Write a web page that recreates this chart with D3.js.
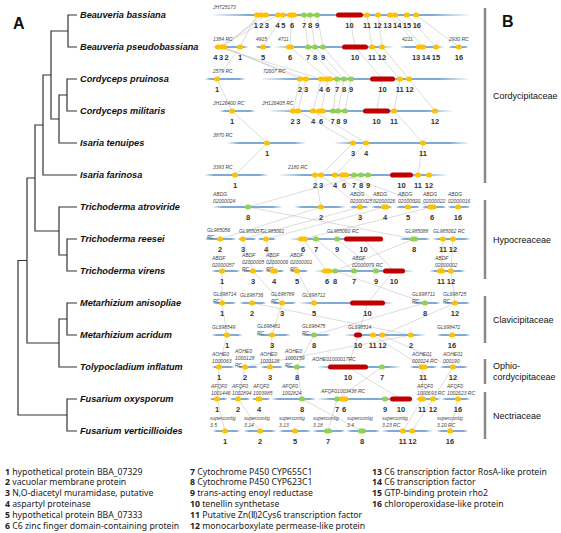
<!DOCTYPE html>
<html><head><meta charset="utf-8">
<script src="https://cdn.jsdelivr.net/npm/d3@7"></script>
<style>body{margin:0;background:#fff} svg{display:block}</style>
</head><body><svg id="c" width="561" height="533"></svg>
<script>
// ---------------- DATA ----------------
const species = ["Beauveria bassiana","Beauveria pseudobassiana","Cordyceps pruinosa","Cordyceps militaris","Isaria tenuipes","Isaria farinosa","Trichoderma atroviride","Trichoderma reesei","Trichoderma virens","Metarhizium anisopliae","Metarhizium acridum","Tolypocladium inflatum","Fusarium oxysporum","Fusarium verticillioides"];
const speciesCodes = ["Bb","Bpb","Cp","Cm","It","If","Ta","Tr","Tv","Ma","Mac","Ti","Fo","Fv"];
// cladogram with branch lengths
const treeNewick = "((((((Bb:9,Bpb:9):17,((Cp:10,Cm:10):8,It:18):8):8,If:34):8,(Ta:18,(Tr:10,Tv:10):8):24):8,((Ma:10,Mac:10):8,Ti:18):32):9,(Fo:10,Fv:10):49)";

const familyNames = ["Cordycipitaceae","Hypocreaceae","Clavicipitaceae","Ophio-|cordycipitaceae","Nectriaceae"];
const familyRows = [[0,5],[6,8],[9,10],[11,11],[12,13]];

// genes: [gene number, position, length]
const genesBb  = [[1,57],[2,61],[3,66],[4,78],[5,83],[6,92,10],[7,104],[8,110],[9,117],[10,149.5,27],[11,167],[12,178],[13,190],[14,195],[15,207],[16,216]];
const genesBpb = [[4,18],[3,21],[2,24],[1,40],[5,63],[6,90,8],[7,108],[8,115],[9,123],[10,155,26],[11,172],[12,182],[13,219],[14,223],[15,236],[16,259]];
const genesCp  = [[1,17],[2,100],[3,106],[4,121],[6,128,10],[7,137],[8,144],[9,151],[10,182.5,25],[11,200],[12,209]];
const genesCm  = [[1,32],[2,93],[3,98],[4,113],[6,121,10],[7,133],[8,138],[9,145],[10,176.5,27],[11,194],[12,235]];
const genesIt  = [[1,67],[3,153],[4,166],[11,223]];
const genesIf  = [[1,35],[2,115],[3,121],[4,135],[6,144,10],[7,154],[8,161],[9,168],[10,201.5,23],[11,218],[12,229]];
const genesTa  = [[8,48],[2,121],[3,160],[4,185,8],[5,208],[6,232,9],[16,258]];
const genesTr  = [[2,20],[3,43],[4,66],[6,103,10],[7,116],[9,137],[10,163.5,39],[8,214,8],[11,243],[12,253]];
const genesTv  = [[1,22],[3,53],[4,74,8],[5,97],[6,127,10],[8,135],[7,154],[9,176],[10,194,22],[11,241,8],[12,251]];
const genesMa  = [[1,22],[2,52],[3,82],[5,114],[10,167.5,35],[8,225],[12,255]];
const genesMac = [[1,27],[3,72],[8,114],[10,158,8],[11,173],[12,182],[2,211],[16,252]];
const genesTi  = [[1,19],[2,45],[3,70],[8,97],[10,148,40],[7,182],[11,223,9],[12,253]];
const genesFo  = [[1,17],[2,38],[4,59,7],[8,102],[7,137],[6,144,9],[9,185],[10,201,22],[11,222,8],[12,233],[16,258]];
const genesFv  = [[1,25],[2,60],[5,95],[7,128,8],[8,162,8],[11,203],[12,212],[16,250]];
const geneRows = [genesBb,genesBpb,genesCp,genesCm,genesIt,genesIf,genesTa,genesTr,genesTv,genesMa,genesMac,genesTi,genesFo,genesFv];

// contigs: [label ("|" = line break), start, end, label position (optional)]
const contigsBb  = [["JH725173",13,268]];
const contigsBpb = [["1384 RC",13,48],["4915",56,71],["4711",76,193,78],["4211",200,243,202],["2930 RC",249,268]];
const contigsCp  = [["2579 RC",5,45,13],["72607 RC",62,268,63]];
const contigsCm  = [["JH126400 RC",20,55,13],["JH126405 RC",70,252,62]];
const contigsIt  = [["3870 RC",28,105,13],["",135,268]];
const contigsIf  = [["3393 RC",5,68,13],["2180 RC",80,247,88]];
const contigsTa  = [["ABDG|02000024",13,82],["",95,145],["ABDG|02000025",150,168],["ABDG|02000026",172,192,173],["ABDG|02000020",196,220,198],["ABDG|02000022",222,246,223],["ABDG|02000016",248,270]];
const contigsTr  = [["GL985056|RC",5,36,7],["GL985057",38,56,39],["GL985061",58,76,61],["GL985060 RC",90,185,127],["GL985088",200,230,205],["GL985062 RC",233,270]];
const contigsTv  = [["ABDF|02000057",12,40],["ABDF|02000005|RC",42,64],["ABDF|02000006|RC",66,84],["ABDF|02000001|RC",90,108],["ABDF|02000079 RC",115,213,152],["ABDF|02000002",230,265,235]];
const contigsMa  = [["GL698714|RC",13,36],["GL698736",40,66],["GL698789|RC",71,96],["GL698712",100,193,102],["GL698711|RC",212,240],["GL698725|RC",243,270]];
const contigsMac = [["GL698549",12,42],["GL698481|RC",57,90],["GL698475|RC",102,130],["GL698514",145,225,148],["GL698472",237,270]];
const contigsTi  = [["AOHE0|1000063",12,34],["AOHE0|1000128|RC",37,58,35],["AOHE0|1000126",61,83,60],["AOHE0|1000159|RC",86,106,85],["AOHE01000017RC",118,200,112],["AOHE01|000024 RC",210,237,212],["AOHE01|000190",240,268,243]];
const contigsFo  = [["AFQF0|1001446",10,27,11],["AFQF0|1002894",30,50,32],["AFQF0|1003985",52,70,53],["AFQF0|1002824",72,116,82],["AFQF01003438 RC",118,214,121],["AFQF0|1000693 RC",216,240,217],["AFQF0|1002623 RC",242,270,247]];
const contigsFv  = [["supercontig|3.5",13,40,10],["supercontig|3.14",44,76],["supercontig|3.13",79,111],["supercontig|3.18",113,145],["supercontig|3.4",147,180],["supercontig|3.23 RC",182,232],["supercontig|3.20 RC",237,268]];
const contigRows = [contigsBb,contigsBpb,contigsCp,contigsCm,contigsIt,contigsIf,contigsTa,contigsTr,contigsTv,contigsMa,contigsMac,contigsTi,contigsFo,contigsFv];

const legendNumbers = [1,2,3,4,5,6,7,8,9,10,11,12,13,14,15,16];
const legendNames = ["hypothetical protein BBA_07329","vacuolar membrane protein","N,O-diacetyl muramidase, putative","aspartyl proteinase","hypothetical protein BBA_07333","C6 zinc finger domain-containing protein","Cytochrome P450 CYP655C1","Cytochrome P450 CYP623C1","trans-acting enoyl reductase","tenellin synthetase","Putative Zn(Ⅱ)2Cys6 transcription factor","monocarboxylate permease-like protein","C6 transcription factor RosA-like protein","C6 transcription factor","GTP-binding protein rho2","chloroperoxidase-like protein"];
const greenGenes = [7,8,9];
const redGenes = [10];

// ---------------- DRAW ----------------
const svg = d3.select("#c");
const SANS = "'Liberation Sans', Arial, sans-serif";
const yRow = d3.scalePoint().domain(d3.range(species.length)).range([15, 431]);
const xTree = d3.scaleLinear().domain([0, 59]).range([18, 77]);
const xg = d3.scaleLinear().domain([0, 280]).range([200, 480]);

function parseNewick(s){
  let i=0;
  function node(){
    const n={};
    if(s[i]==='('){ n.children=[]; i++; n.children.push(node()); while(s[i]===','){i++; n.children.push(node());} i++; }
    let name=''; while(i<s.length && !':,);'.includes(s[i])) name+=s[i++];
    n.name=name;
    if(s[i]===':'){ i++; let num=''; while(i<s.length && !',);'.includes(s[i])) num+=s[i++]; n.length=+num; } else n.length=0;
    return n;
  }
  return node();
}
const root = d3.hierarchy(parseNewick(treeNewick));
root.eachBefore(n=>{ n.dist=(n.parent?n.parent.dist:0)+(n.parent?n.data.length:0); n.px=xTree(n.dist); });
root.eachAfter(n=>{ n.py = n.children ? (n.children[0].py + n.children[n.children.length-1].py)/2 : yRow(speciesCodes.indexOf(n.data.name)); });

const gTree = svg.append("g");
gTree.selectAll("path").data(root.descendants().filter(d=>d.parent)).join("path")
  .attr("d", d=>`M${d.parent.px},${d.parent.py}V${d.py}H${d.px}`)
  .attr("fill","none").attr("stroke","#333").attr("stroke-width",1.2);
gTree.selectAll("text").data(root.leaves()).join("text")
  .attr("x", d=>d.px+3).attr("y", d=>d.py).attr("dy","0.35em")
  .attr("font-family",SANS).attr("font-size",9.2).attr("font-weight","bold").attr("font-style","italic").attr("fill","#111")
  .text(d=>species[speciesCodes.indexOf(d.data.name)]);

svg.append("text").attr("x",13).attr("y",29).attr("font-family",SANS).attr("font-weight","bold").attr("font-size",16).attr("fill","#111").text("A");
svg.append("text").attr("x",502).attr("y",27).attr("font-family",SANS).attr("font-weight","bold").attr("font-size",16).attr("fill","#111").text("B");

// gradient for contig lines
const defs = svg.append("defs");
const grad = defs.append("linearGradient").attr("id","cg").attr("x1","0").attr("x2","1").attr("y1","0").attr("y2","0");
[[0,0.1],[0.14,1],[0.86,1],[1,0.1]].forEach(([o,a])=>grad.append("stop").attr("offset",o).attr("stop-color","#7faad6").attr("stop-opacity",a));

// connection lines between consecutive rows
const conns = [];
for(let r=0;r<geneRows.length-1;r++){
  const nextMap = new Map(geneRows[r+1].map(g=>[g[0],g[1]]));
  geneRows[r].forEach(g=>{ if(nextMap.has(g[0])) conns.push({x1:g[1],y1:yRow(r),x2:nextMap.get(g[0]),y2:yRow(r+1)}); });
}
svg.append("g").selectAll("line").data(conns).join("line")
  .attr("x1",d=>xg(d.x1)).attr("y1",d=>d.y1).attr("x2",d=>xg(d.x2)).attr("y2",d=>d.y2)
  .attr("stroke","#c4c4c4").attr("stroke-width",0.6);

// contigs
const gC = svg.append("g");
contigRows.forEach((row,r)=>{
  const y = yRow(r);
  row.forEach(c=>{
    gC.append("rect").attr("x",xg(c[1])).attr("y",y-1).attr("width",xg(c[2])-xg(c[1])).attr("height",2).attr("fill","url(#cg)");
    if(c[0]){
      const lines = c[0].split("|");
      const n = lines.length;
      const lastC = n===1 ? -8 : (lines[n-1]==="RC" ? -1.5 : -5.5);
      lines.forEach((t,k)=>{
        gC.append("text").attr("x",xg(c[3]!==undefined?c[3]:c[1])).attr("y", y + lastC - 7*(n-1-k) + 1.9)
          .attr("font-family",SANS).attr("font-size",5).attr("font-style","italic").attr("fill","#444").text(t);
      });
    }
  });
});

// gene markers
const gG = svg.append("g");
function geneColor(n){ return redGenes.includes(n) ? "#c00000" : greenGenes.includes(n) ? "#92d050" : "#ffc000"; }
geneRows.forEach((row,r)=>{
  const y = yRow(r);
  row.forEach(g=>{
    const len = g[2]||6, h = 5;
    gG.append("rect").attr("x",xg(g[1]-len/2)).attr("y",y-h/2).attr("width",xg(g[1]+len/2)-xg(g[1]-len/2)).attr("height",h)
      .attr("rx",h/2).attr("fill",geneColor(g[0]));
  });
});

// gene number labels with collision spreading
const gap = 1.4;
function spreadLabels(items){
  items.sort((a,b)=>a.x-b.x);
  const layout = c=>{
    let off=0; const rel=[];
    c.items.forEach((it,k)=>{ if(k>0) off += c.items[k-1].w/2 + gap + it.w/2; rel.push(off); });
    const shift = d3.mean(c.items,d=>d.x) - d3.mean(rel);
    c.items.forEach((it,k)=>it.lx=rel[k]+shift);
    c.left = c.items[0].lx - c.items[0].w/2;
    const last = c.items[c.items.length-1];
    c.right = last.lx + last.w/2;
  };
  let clusters = items.map(it=>{ const c={items:[it]}; layout(c); return c; });
  let merged=true;
  while(merged){
    merged=false;
    for(let i=0;i<clusters.length-1;i++){
      if(clusters[i].right + gap > clusters[i+1].left){
        const c={items:clusters[i].items.concat(clusters[i+1].items)}; layout(c);
        clusters.splice(i,2,c); merged=true; break;
      }
    }
  }
  return items;
}
const gN = svg.append("g");
geneRows.forEach((row,r)=>{
  const y = yRow(r);
  const items = spreadLabels(row.map(g=>({n:g[0], x:xg(g[1]), w:String(g[0]).length*4.2})));
  gN.selectAll(null).data(items).join("text")
    .attr("x",d=>d.lx).attr("y",y+12.7).attr("text-anchor","middle")
    .attr("font-family",SANS).attr("font-size",7.5).attr("font-weight","bold").attr("fill","#333").text(d=>d.n);
});

// family bars and names
familyRows.forEach((fr,i)=>{
  let y0 = yRow(fr[0])-7, y1 = yRow(fr[1])+8;
  if(y1-y0<25){ const m=(y0+y1)/2+4; y0=m-12.5; y1=m+12.5; }
  svg.append("line").attr("x1",485).attr("x2",485).attr("y1",y0).attr("y2",y1).attr("stroke","#8a8a8a").attr("stroke-width",2.5);
  const lines = familyNames[i].split("|");
  const mid = (y0+y1)/2;
  lines.forEach((t,k)=>{
    svg.append("text").attr("x",493).attr("y", mid + (k-(lines.length-1)/2)*10.5).attr("dy","0.35em")
      .attr("font-family",SANS).attr("font-size",9).attr("fill","#111").text(t);
  });
});

// legend
const legendX = [5,190,372];
const gL = svg.append("g").attr("font-family","'Noto Sans', sans-serif").attr("font-size",8.7).attr("fill","#222");
legendNumbers.forEach((num,i)=>{
  const col = Math.floor(i/6), rowi = i%6;
  const t = gL.append("text").attr("x",legendX[col]).attr("y",474.5+rowi*10.8);
  t.append("tspan").attr("font-weight","bold").text(num+" ");
  t.append("tspan").text(legendNames[i]);
});
</script></body></html>
